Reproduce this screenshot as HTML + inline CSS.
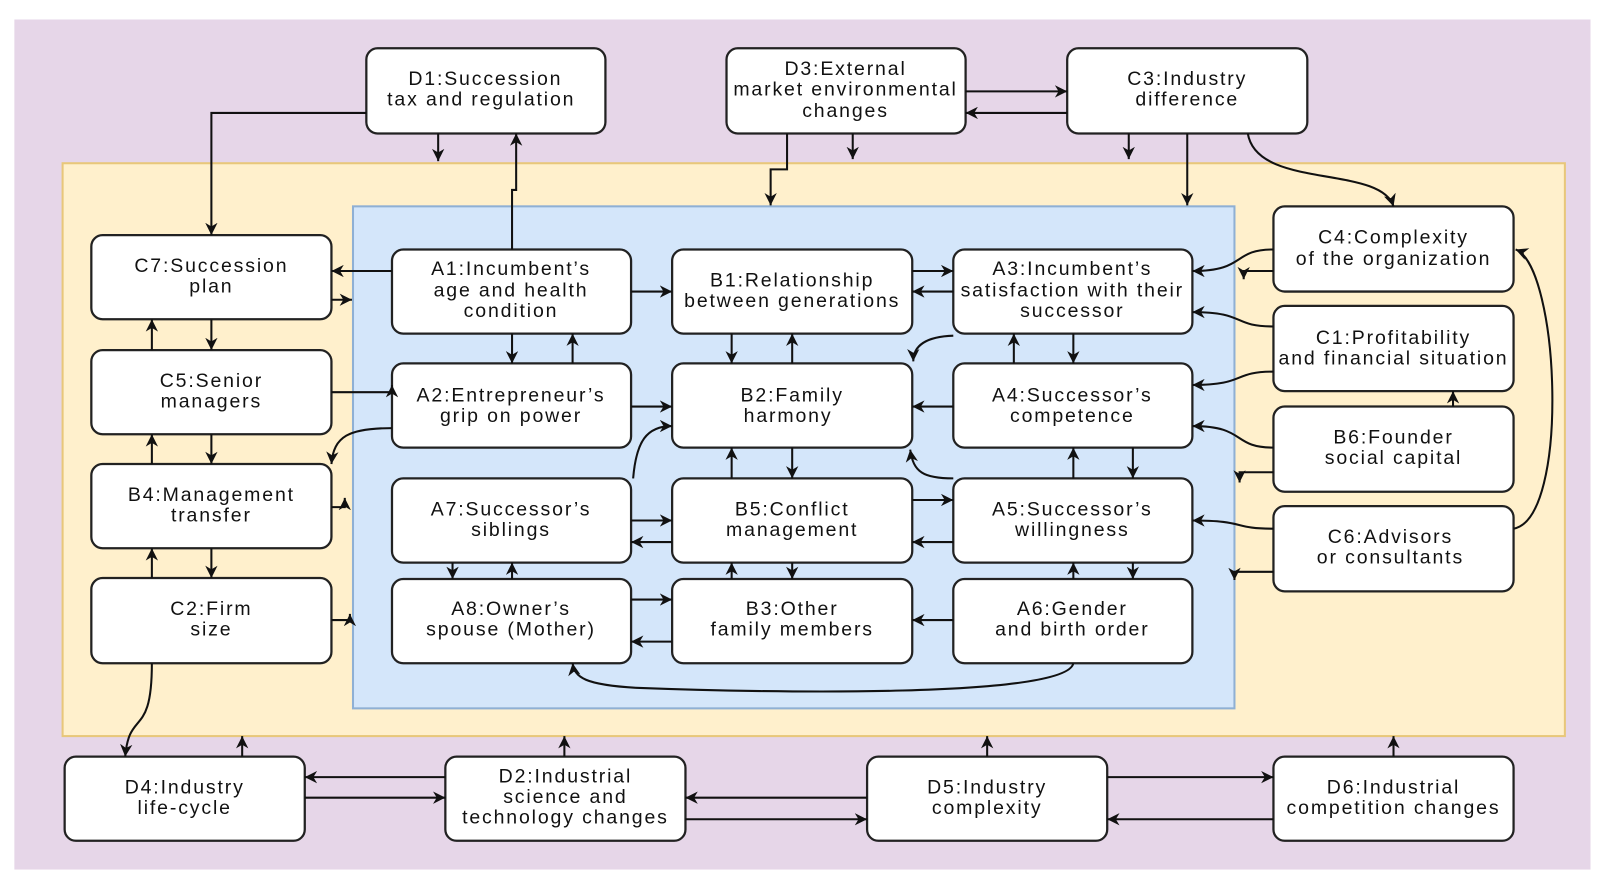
<!DOCTYPE html>
<html><head><meta charset="utf-8"><style>
html,body{margin:0;padding:0;background:#fff;overflow:hidden;}
svg{display:block;}
text{font-family:"Liberation Sans",sans-serif;font-size:19px;letter-spacing:1.8px;fill:#111;text-anchor:middle;}
.b{fill:#fff;stroke:#222;stroke-width:2.2;}
.l{fill:none;stroke:#111;stroke-width:2;marker-end:url(#a);}
</style></head><body>
<svg width="1609" height="887" viewBox="0 0 1568 864" preserveAspectRatio="none" xmlns="http://www.w3.org/2000/svg">
<defs><marker id="a" markerUnits="userSpaceOnUse" markerWidth="12" markerHeight="12" refX="10" refY="5" orient="auto" viewBox="0 0 10 10"><path d="M0,0 L10,5 L0,10 L3,5 z" fill="#111"/></marker></defs>
<rect x="14" y="19" width="1536" height="828" fill="#e6d6e8"/>
<rect x="61" y="159" width="1464" height="558" fill="#fff0cc" stroke="#e8c77a" stroke-width="2"/>
<rect x="344" y="201" width="859" height="489" fill="#d4e6fa" stroke="#8fb0d4" stroke-width="2"/>
<g>
<rect class="b" x="357" y="47" width="233" height="83" rx="11"/><text x="473" y="83">D1:Succession</text><text x="469" y="103">tax and regulation</text>
<rect class="b" x="708" y="47" width="233" height="83" rx="11"/><text x="824" y="73">D3:External</text><text x="824" y="93">market environmental</text><text x="824" y="114">changes</text>
<rect class="b" x="1040" y="47" width="234" height="83" rx="11"/><text x="1157" y="83">C3:Industry</text><text x="1157" y="103">difference</text>
<rect class="b" x="89" y="229" width="234" height="82" rx="11"/><text x="206" y="265">C7:Succession</text><text x="206" y="285">plan</text>
<rect class="b" x="382" y="243" width="233" height="82" rx="11"/><text x="498" y="268">A1:Incumbent’s</text><text x="498" y="289">age and health</text><text x="498" y="309">condition</text>
<rect class="b" x="655" y="243" width="234" height="82" rx="11"/><text x="772" y="279">B1:Relationship</text><text x="772" y="299">between generations</text>
<rect class="b" x="929" y="243" width="233" height="82" rx="11"/><text x="1045" y="268">A3:Incumbent’s</text><text x="1045" y="289">satisfaction with their</text><text x="1045" y="309">successor</text>
<rect class="b" x="1241" y="201" width="234" height="83" rx="11"/><text x="1358" y="237">C4:Complexity</text><text x="1358" y="258">of the organization</text>
<rect class="b" x="89" y="341" width="234" height="82" rx="11"/><text x="206" y="377">C5:Senior</text><text x="206" y="397">managers</text>
<rect class="b" x="382" y="354" width="233" height="82" rx="11"/><text x="498" y="391">A2:Entrepreneur’s</text><text x="498" y="411">grip on power</text>
<rect class="b" x="655" y="354" width="234" height="82" rx="11"/><text x="772" y="391">B2:Family</text><text x="768" y="411">harmony</text>
<rect class="b" x="929" y="354" width="233" height="82" rx="11"/><text x="1045" y="391">A4:Successor’s</text><text x="1045" y="411">competence</text>
<rect class="b" x="1241" y="298" width="234" height="83" rx="11"/><text x="1358" y="335">C1:Profitability</text><text x="1358" y="355">and financial situation</text>
<rect class="b" x="1241" y="396" width="234" height="83" rx="11"/><text x="1358" y="432">B6:Founder</text><text x="1358" y="452">social capital</text>
<rect class="b" x="89" y="452" width="234" height="82" rx="11"/><text x="206" y="488">B4:Management</text><text x="206" y="508">transfer</text>
<rect class="b" x="382" y="466" width="233" height="82" rx="11"/><text x="498" y="502">A7:Successor’s</text><text x="498" y="522">siblings</text>
<rect class="b" x="655" y="466" width="234" height="82" rx="11"/><text x="772" y="502">B5:Conflict</text><text x="772" y="522">management</text>
<rect class="b" x="929" y="466" width="233" height="82" rx="11"/><text x="1045" y="502">A5:Successor’s</text><text x="1045" y="522">willingness</text>
<rect class="b" x="1241" y="493" width="234" height="83" rx="11"/><text x="1355" y="529">C6:Advisors</text><text x="1355" y="549">or consultants</text>
<rect class="b" x="89" y="563" width="234" height="83" rx="11"/><text x="206" y="599">C2:Firm</text><text x="206" y="619">size</text>
<rect class="b" x="382" y="564" width="233" height="82" rx="11"/><text x="498" y="599">A8:Owner’s</text><text x="498" y="619">spouse (Mother)</text>
<rect class="b" x="655" y="564" width="234" height="82" rx="11"/><text x="772" y="599">B3:Other</text><text x="772" y="619">family members</text>
<rect class="b" x="929" y="564" width="233" height="82" rx="11"/><text x="1045" y="599">A6:Gender</text><text x="1045" y="619">and birth order</text>
<rect class="b" x="63" y="737" width="234" height="82" rx="11"/><text x="180" y="773">D4:Industry</text><text x="180" y="793">life-cycle</text>
<rect class="b" x="434" y="737" width="234" height="82" rx="11"/><text x="551" y="762">D2:Industrial</text><text x="551" y="782">science and</text><text x="551" y="802">technology changes</text>
<rect class="b" x="845" y="737" width="234" height="82" rx="11"/><text x="962" y="773">D5:Industry</text><text x="962" y="793">complexity</text>
<rect class="b" x="1241" y="737" width="234" height="82" rx="11"/><text x="1358" y="773">D6:Industrial</text><text x="1358" y="793">competition changes</text>
</g>
<g>
<path class="l" d="M357,110 H206 V229"/>
<path class="l" d="M427,130 V157"/>
<path class="l" d="M499,243 V185 H503 V130"/>
<path class="l" d="M767,130 V165 H751 V200"/>
<path class="l" d="M831,130 V155"/>
<path class="l" d="M941,89 H1040"/>
<path class="l" d="M1040,110 H941"/>
<path class="l" d="M1100,130 V155"/>
<path class="l" d="M1157,130 V200"/>
<path class="l" d="M1216,130 C1225,185 1345,160 1358,201"/>
<path class="l" d="M382,264 H323"/>
<path class="l" d="M323,292 H343"/>
<path class="l" d="M206,311 V341"/>
<path class="l" d="M148,341 V311"/>
<path class="l" d="M323,382 H382 V375"/>
<path class="l" d="M382,417 C340,417 325,425 323,452"/>
<path class="l" d="M206,423 V452"/>
<path class="l" d="M148,452 V423"/>
<path class="l" d="M323,494 H336 V485"/>
<path class="l" d="M206,534 V563"/>
<path class="l" d="M148,563 V534"/>
<path class="l" d="M323,604 H341 V598"/>
<path class="l" d="M148,646 C148,720 126,690 122,737"/>
<path class="l" d="M236,737 V717"/>
<path class="l" d="M615,284 H655"/>
<path class="l" d="M499,325 V354"/>
<path class="l" d="M558,354 V325"/>
<path class="l" d="M889,264 H929"/>
<path class="l" d="M929,284 H889"/>
<path class="l" d="M713,325 V354"/>
<path class="l" d="M772,354 V325"/>
<path class="l" d="M929,327 C900,328 890,338 890,352"/>
<path class="l" d="M988,354 V325"/>
<path class="l" d="M1046,325 V354"/>
<path class="l" d="M615,396 H655"/>
<path class="l" d="M617,466 C620,430 630,415 655,415"/>
<path class="l" d="M929,396 H889"/>
<path class="l" d="M929,466 C900,466 890,460 887,438"/>
<path class="l" d="M713,466 V436"/>
<path class="l" d="M772,436 V466"/>
<path class="l" d="M1046,466 V436"/>
<path class="l" d="M1104,436 V466"/>
<path class="l" d="M615,507 H655"/>
<path class="l" d="M655,528 H615"/>
<path class="l" d="M889,487 H929"/>
<path class="l" d="M929,528 H889"/>
<path class="l" d="M441,548 V564"/>
<path class="l" d="M499,564 V548"/>
<path class="l" d="M713,564 V548"/>
<path class="l" d="M772,548 V564"/>
<path class="l" d="M1046,564 V548"/>
<path class="l" d="M1104,548 V564"/>
<path class="l" d="M615,584 H655"/>
<path class="l" d="M655,625 H615"/>
<path class="l" d="M929,604 H889"/>
<path class="l" d="M1046,646 C1040,680 750,675 620,670 C570,667 560,660 558,646"/>
<path class="l" d="M1241,243 C1200,243 1215,264 1162,264"/>
<path class="l" d="M1241,264 H1212 V272"/>
<path class="l" d="M1241,318 C1200,318 1215,304 1162,304"/>
<path class="l" d="M1241,362 C1200,362 1215,375 1162,375"/>
<path class="l" d="M1241,436 C1200,436 1215,415 1162,415"/>
<path class="l" d="M1241,460 H1208 V470"/>
<path class="l" d="M1416,396 V381"/>
<path class="l" d="M1241,515 C1200,515 1215,507 1162,507"/>
<path class="l" d="M1241,557 H1203 V565"/>
<path class="l" d="M1475,515 C1530,505 1520,260 1477,243"/>
<path class="l" d="M434,757 H297"/>
<path class="l" d="M297,777 H434"/>
<path class="l" d="M550,737 V717"/>
<path class="l" d="M962,737 V717"/>
<path class="l" d="M1358,737 V717"/>
<path class="l" d="M845,777 H668"/>
<path class="l" d="M668,798 H845"/>
<path class="l" d="M1079,757 H1241"/>
<path class="l" d="M1241,798 H1079"/>
</g>
</svg>
</body></html>
